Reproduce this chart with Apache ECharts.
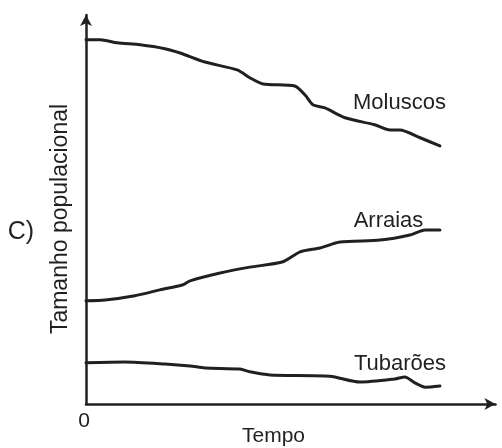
<!DOCTYPE html>
<html>
<head>
<meta charset="utf-8">
<script src="https://cdn.jsdelivr.net/npm/echarts@6/dist/echarts.min.js"></script>
<style>
  html, body { margin: 0; padding: 0; background: #fff; }
  #chart { width: 502px; height: 448px; }
</style>
</head>
<body>
<div id="chart"></div>
<script>
// Population size over time (relative units) for three groups
const moluscos = [
  [0, 92.9], [4.0, 92.9], [8.8, 92.1], [15.3, 91.6], [22.3, 90.6], [26.6, 89.5],
  [33.6, 87.2], [42.7, 85.2], [46.3, 83.2], [50.0, 81.6], [59.0, 81.1], [61.9, 78.8],
  [64.1, 76.3], [67.5, 75.5], [73.2, 73.0], [81.6, 71.2], [85.9, 69.9], [88.7, 69.9],
  [94.4, 67.9], [100, 65.8]
];
const arraias = [
  [0, 26.3], [5.4, 26.5], [13.8, 27.6], [20.9, 29.1], [27.4, 30.4], [29.4, 31.4],
  [37.9, 33.4], [46.3, 34.9], [55.4, 36.2], [60.5, 38.8], [66.1, 39.8], [71.8, 41.3],
  [83.1, 41.8], [91.5, 43.1], [95.8, 44.4], [100, 44.4]
];
const tubaroes = [
  [0, 10.5], [11.0, 10.7], [22.3, 10.2], [29.4, 9.7], [33.6, 9.2], [43.5, 8.9],
  [46.3, 8.2], [52.0, 7.4], [68.9, 7.1], [77.4, 5.6], [87.3, 6.4], [90.1, 6.9],
  [92.9, 5.4], [95.8, 4.3], [100, 4.6]
];
const seriesNames = ['Moluscos', 'Arraias', 'Tubarões'];
const xTitle = 'Tempo';
const yTitle = 'Tamanho populacional';
const originLabel = '0';
const panelTag = 'C)';

const ink = '#231f20';
const font = 'Liberation Sans, Arial, sans-serif';

const chart = echarts.init(document.getElementById('chart'), null, { renderer: 'canvas' });

const lineSeries = (name, data) => ({
  name, type: 'line', data, smooth: 0.25, symbol: 'none', silent: true,
  lineStyle: { color: ink, width: 3, cap: 'round', join: 'round' },
  z: 3
});

const txt = (text, x, y, size, extra) => Object.assign({
  type: 'text', x, y,
  style: { text, fill: ink, font: size + 'px ' + font, align: 'center', verticalAlign: 'middle' }
}, extra || {});

chart.setOption({
  animation: false,
  backgroundColor: '#fff',
  grid: { left: 86, right: 6.5, top: 15, bottom: 44, containLabel: false },
  xAxis: {
    type: 'value', min: 0, max: 115.7,
    axisLine: { show: true, symbol: ['none', 'arrow'], symbolSize: [9, 11], lineStyle: { color: ink, width: 2.5 } },
    axisTick: { show: false }, axisLabel: { show: false }, splitLine: { show: false }
  },
  yAxis: {
    type: 'value', min: 0, max: 99.2,
    axisLine: { show: true, symbol: ['none', 'arrow'], symbolSize: [9, 11], lineStyle: { color: ink, width: 2.5 } },
    axisTick: { show: false }, axisLabel: { show: false }, splitLine: { show: false }
  },
  series: [
    lineSeries(seriesNames[0], moluscos),
    lineSeries(seriesNames[1], arraias),
    lineSeries(seriesNames[2], tubaroes)
  ],
  graphic: [
    txt(seriesNames[0], 399.5, 103, 22),
    txt(seriesNames[1], 388.5, 220.5, 22),
    txt(seriesNames[2], 400, 364, 22),
    txt(panelTag, 21, 232, 25),
    txt(originLabel, 84, 421, 21),
    txt(xTitle, 273.5, 436, 21),
    txt(yTitle, 60.5, 219, 23, { rotation: Math.PI / 2 })
  ]
});
</script>
</body>
</html>
